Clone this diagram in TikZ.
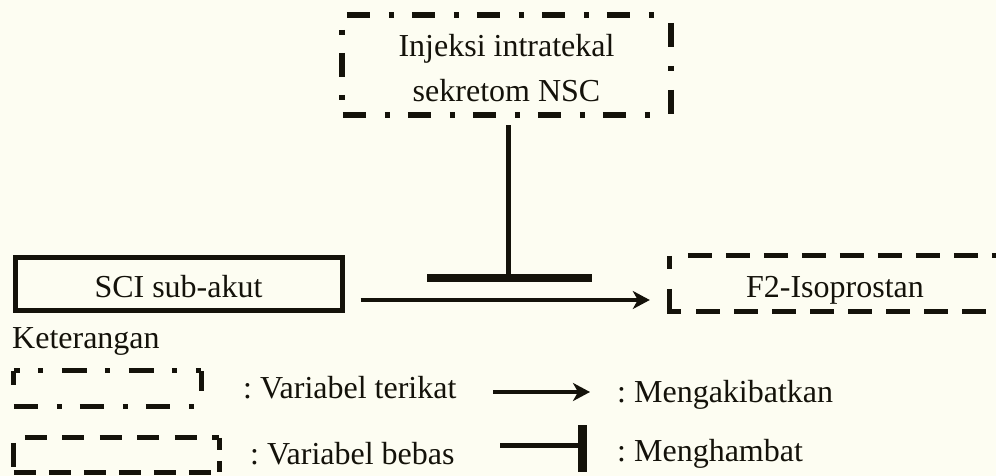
\documentclass[tikz,border=0pt]{standalone}
\usepackage{fontspec}
\setmainfont{Liberation Serif}
\usetikzlibrary{arrows.meta}
\definecolor{paper}{RGB}{253,253,242}
\definecolor{ink}{RGB}{20,18,10}
\frenchspacing
\begin{document}
\begin{tikzpicture}[x=1pt,y=-1pt,
  lbl/.style={font=\fontsize{32}{45}\selectfont, text=ink, inner sep=0pt},
  boxnode/.style={lbl, align=center},
  ddash/.style={draw=ink, line width=5.5pt, dash pattern=on 23pt off 19pt on 5pt off 18pt},
  sdash/.style={draw=ink, line width=5pt, dash pattern=on 24pt off 14pt},
  causes/.style={draw=ink, line width=4.8pt, -{Stealth[length=17pt,width=18pt,inset=5pt]}},
  stem/.style={draw=ink, line width=5pt},
  bar/.style={draw=ink, line width=8.5pt},
  keytext/.style={lbl, anchor=base west},
]
\fill[paper] (0,0) rectangle (996,476);
\useasboundingbox (0,0) rectangle (996,476);

% treatment: dash-dot framed box
\node[boxnode, minimum width=329pt, minimum height=100pt] (inj) at (506.5,65)
  {\rule{0pt}{28pt}Injeksi intratekal\\sekretom NSC};
\draw[ddash] ([xshift=5pt]inj.north west) -- ([xshift=-10pt]inj.north east);
\draw[ddash, dash pattern=on 5pt off 18pt on 24pt off 18pt]
  ([yshift=-15pt]inj.north west) -- ([yshift=14pt]inj.south west);
\draw[ddash, dash pattern=on 24pt off 19pt on 5pt off 19pt]
  ([yshift=-8pt]inj.north east) -- ([yshift=1pt]inj.south east);
\draw[ddash] ([xshift=1pt]inj.south west) -- ([xshift=-15pt]inj.south east);

% injury: solid box
\node[boxnode, draw=ink, line width=5pt, minimum width=327pt, minimum height=53pt,
  text height=27pt, text depth=0pt] (sci) at (178.5,283.5) {SCI sub-akut};

% outcome: dashed box running off the right edge
\node[boxnode, minimum width=330pt, minimum height=55pt,
  text height=27pt, text depth=0pt] (f2) at (835,283.5) {F2-Isoprostan};
\draw[sdash] ([xshift=18pt]f2.north west) -- (f2.north east);
\draw[sdash, dash pattern=on 13pt off 20pt on 34pt off 15pt on 24pt off 14pt on 24pt off 14pt
  on 24pt off 14pt on 24pt off 14pt on 24pt off 14pt on 24pt off 14pt on 24pt off 14pt
  on 24pt off 14pt on 24pt off 14pt]
  (f2.north west) -- (f2.south west) -- (f2.south east);

% causal arrow and inhibition
\draw[causes] ([xshift=16pt,yshift=-16.5pt]sci.east) -- ([xshift=-20pt,yshift=-16.5pt]f2.west);
\coordinate (tb) at (508,278);
\draw[stem, shorten <=10pt] (inj.south -| tb) -- (tb);
\draw[bar] ([xshift=-81pt]tb) -- ([xshift=84pt]tb);

% legend
\node[keytext] (ket) at (12,348) {Keterangan};

\node[minimum width=187pt, minimum height=35pt, inner sep=0pt] (lg1) at (107.5,388.5) {};
\draw[ddash, line width=4.8pt, dash pattern=on 25pt off 18pt on 5pt off 19pt, dash phase=19pt]
  (lg1.north west) -- (lg1.north east);
\draw[ddash, line width=4.8pt, dash pattern=on 14pt off 30pt] (lg1.north west) -- (lg1.south west);
\draw[ddash, line width=4.8pt, dash pattern=on 20pt off 30pt] (lg1.north east) -- (lg1.south east);
\draw[ddash, line width=4.8pt, dash pattern=on 24pt off 19pt on 5pt off 18pt]
  (lg1.south west) -- ([xshift=-7pt]lg1.south east);
\node[keytext] (t1) at (243,398) {: Variabel terikat};

\node[minimum width=205pt, minimum height=34pt, inner sep=0pt] (lg2) at (116.5,455) {};
\draw[sdash, line width=4.8pt, dash pattern=on 22pt off 15.5pt]
  ([xshift=11pt]lg2.north west) -- (lg2.north east);
\draw[sdash, line width=4.8pt, dash pattern=on 12pt off 11pt on 11pt off 30pt]
  (lg2.north east) -- (lg2.south east);
\draw[sdash, line width=4.8pt, dash pattern=on 24pt off 20pt]
  ([yshift=-5pt]lg2.north west) -- (lg2.south west);
\draw[sdash, line width=4.8pt, dash pattern=on 22pt off 13pt]
  (lg2.south west) -- (lg2.south east);
\node[keytext] (t2) at (250,464) {: Variabel bebas};

\coordinate (a1) at (493,392);
\coordinate (a2) at (590,392);
\draw[causes] (a1) -- (a2);
\node[keytext] (t3) at (617,402) {: Mengakibatkan};

\coordinate (h1) at (500,445);
\coordinate (h2) at (582,445);
\draw[stem] (h1) -- (h2);
\draw[bar, line width=9pt] ([yshift=20pt]h2) -- ([yshift=-27pt]h2);
\node[keytext] (t4) at (617,461) {: Menghambat};
\end{tikzpicture}
\end{document}
